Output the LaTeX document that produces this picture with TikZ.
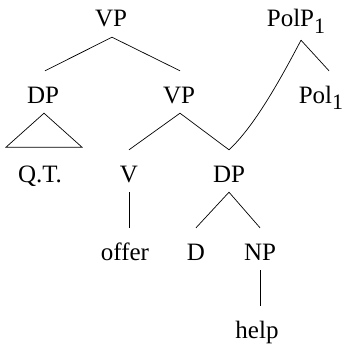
\documentclass[tikz,border=0pt]{standalone}
\usepackage{fontspec}
\setmainfont{Liberation Serif}
\newcommand{\lowone}{\raisebox{-6.5pt}{\fontsize{22}{22}\selectfont 1}}
\begin{document}
\begin{tikzpicture}[x=1pt,y=-1pt,
  lbl/.style={anchor=base, inner sep=0pt, text height=32pt, text depth=10pt, font=\fontsize{25}{29}\selectfont},
  br/.style={line width=0.7pt}]
\useasboundingbox (0,0) rectangle (344,345);
\node[lbl] (vp1) at (111,27) {VP};
\node[lbl] (polp) at (296,27) {PolP\lowone};
\node[lbl] (dp1) at (43,103) {DP};
\node[lbl] (vp2) at (179,103) {VP};
\node[lbl] (pol) at (321,103) {Pol\lowone};
\node[lbl] (qt) at (40,182) {Q.T.};
\node[lbl] (v) at (129,182) {V};
\node[lbl] (dp2) at (229,182) {DP};
\node[lbl] (offer) at (125,260) {offer};
\node[lbl] (d) at (196,260) {D};
\node[lbl] (np) at (260,260) {NP};
\node[lbl] (help) at (257,338) {help};
\draw[br] ([xshift=1pt]vp1.south) -- ([xshift=2pt]dp1.north);
\draw[br] ([xshift=1pt]vp1.south) -- ([xshift=1pt]vp2.north);
\draw[br] ([xshift=5pt,yshift=-3pt]polp.south) -- ([xshift=8pt]pol.north);
\draw[br] ([xshift=1pt]dp1.south) -- ++(-38,34) -- ++(76,0) -- cycle;
\draw[br] ([xshift=1pt]vp2.south) -- (v.north);
\draw[br] ([xshift=1pt]vp2.south) -- (dp2.north);
\draw[br] (dp2.north) .. controls +(25,-23) and +(-21,40) .. ([xshift=5pt,yshift=-3pt]polp.south);
\draw[br] (v.south) -- (v.south |- offer.north);
\draw[br] (dp2.south) -- (d.north);
\draw[br] (dp2.south) -- (np.north);
\draw[br] (np.south) -- (np.south |- help.north);
\end{tikzpicture}
\end{document}
